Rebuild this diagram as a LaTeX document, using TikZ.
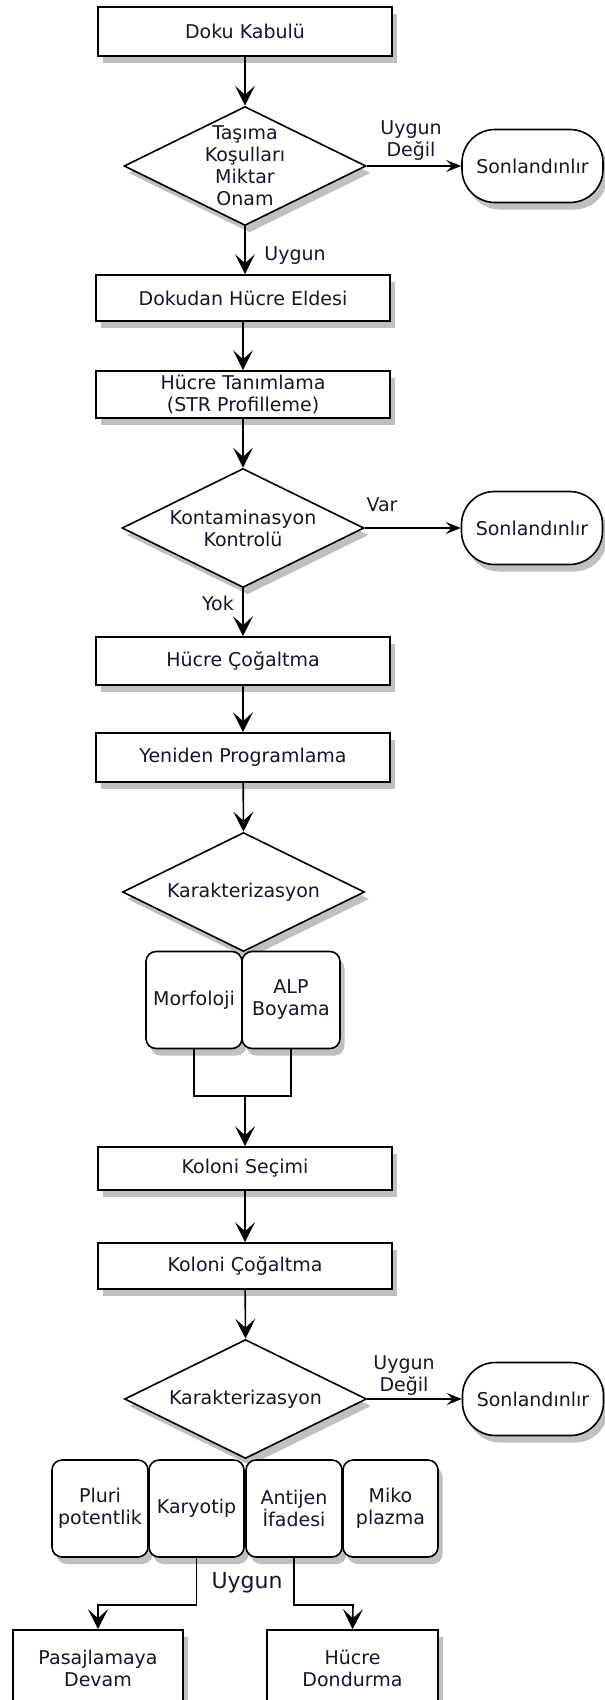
\documentclass[tikz,border=0pt]{standalone}
\usepackage{fontspec}
\setmainfont{DejaVu Sans}
\usetikzlibrary{shapes.geometric,arrows.meta,shadows}
\definecolor{ink}{RGB}{22,22,42}
\definecolor{shade}{RGB}{192,192,192}

\begin{document}
\begin{tikzpicture}[x=1pt,y=-1pt,
  font=\fontsize{19}{22}\selectfont,
  txt/.style={text=ink,align=center,inner sep=0pt},
  sh/.style={drop shadow={shadow xshift=4.5pt,shadow yshift=-7pt,fill=shade,opacity=1}},
  proc/.style={rectangle,draw=black,line width=1.6pt,fill=white,sh,
    minimum width=294pt,inner sep=0pt,text=ink,align=center},
  sub/.style={rectangle,rounded corners=10pt,draw=black,line width=1.6pt,fill=white,sh,
    minimum height=97pt,inner sep=0pt,text=ink,align=center},
  term/.style={rectangle,rounded corners=33pt,draw=black,line width=1.6pt,fill=white,sh,
    minimum width=141pt,minimum height=73pt,inner sep=0pt,text=ink,align=center},
  dec/.style={diamond,draw=black,line width=1.6pt,fill=white,sh,
    minimum width=242pt,minimum height=119pt,inner sep=0pt},
  flow/.style={line width=1.6pt,draw=black},
  arr/.style={flow,-{Stealth[length=20pt,width=20pt,inset=9pt]}},
  arrs/.style={flow,-{Stealth[length=15pt,width=12pt,inset=6pt]}},
]
\useasboundingbox (0,0) rectangle (605,1700);
\fill[white] (0,0) rectangle (605,1700);

% main column
\node[proc,minimum height=49pt] (n1) at (245,31.5) {Doku Kabulü};
\node[dec] (d1) at (245,166) {};
\node[txt] (d1t) at (245,166) {Taşıma\\Koşulları\\Miktar\\Onam};
\node[term] (e1) at (532.5,166) {Sonlandınlır};

\node[proc,minimum height=46pt] (n2) at (243,298) {Dokudan Hücre Eldesi};
\node[proc,minimum height=47pt] (n3) at (243,394.5) {Hücre Tanımlama\\(STR Profilleme)};

\node[dec] (d2) at (243,528) {};
\node[txt] (d2t) at (243,528) {Kontaminasyon\\Kontrolü};
\node[term] (e2) at (532,528) {Sonlandınlır};

\node[proc,minimum height=48pt] (n4) at (243,661) {Hücre Çoğaltma};
\node[proc,minimum height=49pt] (n5) at (243,757.5) {Yeniden Programlama};

\node[dec] (d3) at (243.5,892) {};
\node[txt] (d3t) at (243.5,892) {Karakterizasyon};

\node[sub,minimum width=96pt] (m1) at (194,1000) {Morfoloji};
\node[sub,minimum width=98pt] (m2) at (291,1000) {ALP\\Boyama};
\coordinate (j1) at (245,1096);

\node[proc,minimum height=43pt] (n6) at (245,1168.5) {Koloni Seçimi};
\node[proc,minimum height=46pt] (n7) at (245,1266) {Koloni Çoğaltma};

\node[dec] (d4) at (245.5,1399) {};
\node[txt] (d4t) at (245.5,1399) {Karakterizasyon};
\node[term] (e3) at (533,1399) {Sonlandınlır};

\node[sub,minimum width=96pt] (p1) at (100,1508.5) {Pluri\\potentlik};
\node[sub,minimum width=95pt] (p2) at (196.5,1508.5) {Karyotip};
\node[sub,minimum width=96pt] (p3) at (294,1508.5) {Antijen\\İfadesi};
\node[sub,minimum width=95pt] (p4) at (390.5,1508.5) {Miko\\plazma};

\coordinate (k1) at (98,1605);
\coordinate (k2) at (353,1605);
\node[proc,minimum width=170pt,minimum height=76pt] (f1) at (98,1668) {Pasajlamaya\\Devam};
\node[proc,minimum width=171pt,minimum height=76pt] (f2) at (352.5,1668) {Hücre\\Dondurma};

% connectors
\draw[arr] (n1) -- (d1.north);
\draw[arrs] (d1.east) -- (e1.west);
\draw[arr] (d1.south) -- (d1.south |- n2.north);
\draw[arr] (n2) -- (n3);
\draw[arr] (n3) -- (d2.north);
\draw[arrs] (d2.east) -- (e2.west);
\draw[arr] (d2.south) -- (n4.north);
\draw[arr] (n4) -- (n5);
\draw[arr] (n5) -- (d3.north);
\draw[flow] (m1.south) |- (j1) -| (m2.south);
\draw[arr] (j1) -- (n6.north);
\draw[arr] (n6) -- (n7);
\draw[arr] (n7) -- (d4.north);
\draw[arrs] (d4.east) -- (e3.west);
\draw[arr] (p2.south) |- (k1) -- (f1.north);
\draw[arr] (p3.south) |- (k2) -- (f2.north);

% edge labels
\node[txt] (l1) at (411,141) {Uygun\\Değil};
\node[txt] (l2) at (295,256) {Uygun};
\node[txt] (l3) at (382,505) {Var};
\node[txt] (l4) at (218,603) {Yok};
\node[txt] (l5) at (404,1376) {Uygun\\Değil};
\node[txt,font=\fontsize{22}{24}\selectfont] (l6) at (247,1583) {Uygun};
\end{tikzpicture}
\end{document}
